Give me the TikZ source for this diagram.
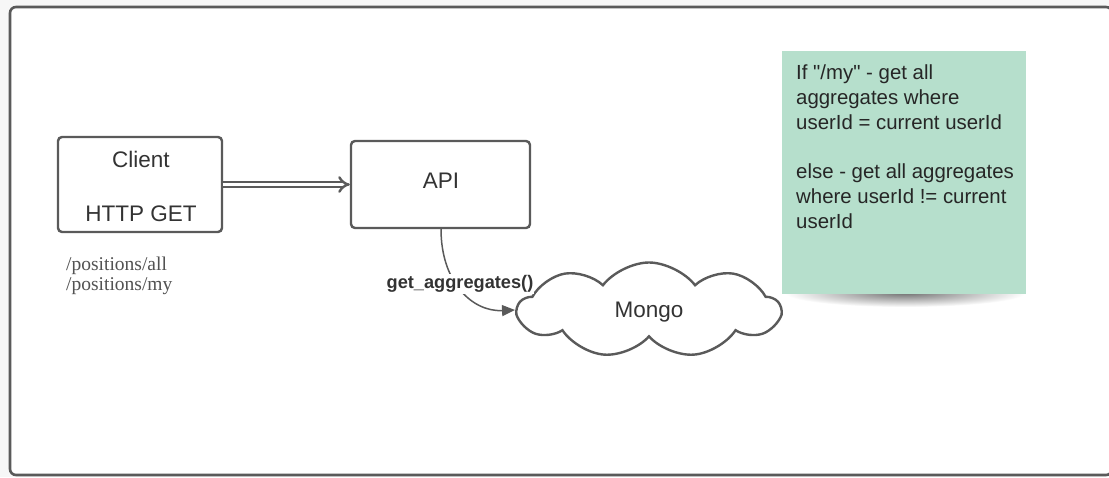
\documentclass[tikz,border=0pt]{standalone}
\usepackage{fontspec}
\setmainfont{Liberation Sans}
\newfontfamily\notefont{Liberation Sans}[Ligatures=TeXOff]
\newfontfamily\pathfont{Liberation Serif}
\usetikzlibrary{arrows.meta,shapes.symbols}
\definecolor{edge}{HTML}{5A5A5A}
\definecolor{txt}{HTML}{333333}
\definecolor{note}{HTML}{B6DFCC}
\definecolor{bg}{HTML}{F7F7F7}
\tikzset{
  box/.style={draw=edge, line width=2.4pt, rounded corners=4pt, fill=white, inner sep=0pt},
  lbl/.style={text=txt, font=\fontsize{22.5}{27}\selectfont, inner sep=0pt},
}
\begin{document}
\begin{tikzpicture}[x=1pt,y=-1pt]
\useasboundingbox (0,0) rectangle (1109,477);
\fill[bg] (0,0) rectangle (1109,477);
\draw[draw=edge, line width=2.6pt, rounded corners=6pt, fill=white] (10,7) rectangle (1112,475);

% Client
\node[box, minimum width=164pt, minimum height=95pt] (client) at (140,184.5) {};
\node[lbl] (clientT) at (141,159) {Client};
\node[lbl] (clientG) at (141,214) {HTTP GET};

% API
\node[box, minimum width=179pt, minimum height=87pt] (api) at (440.5,184.5) {};
\node[lbl] (apiT) at (441,181) {API};

% paths
\node[text=txt!85, font=\pathfont\fontsize{19.5}{20}\selectfont, align=left, anchor=north west, inner sep=0pt] (paths) at (66,257) {/positions/all\\[-0.5pt]/positions/my};

% double arrow
\draw[draw=edge, line width=2.4pt, double=white, double distance=3pt, -{Implies[length=7pt,width=14pt]}] (client.east) -- (api.west);

% Mongo cloud
\node[cloud, cloud puffs=9, cloud puff arc=105, aspect=2.7, draw=edge, line width=2.4pt, fill=white,
      minimum width=262pt, minimum height=95pt, inner sep=0pt] (mongo) at (649,310) {};
\node[lbl] (mongoT) at (649,312) {Mongo};

% connector
\coordinate (apiB) at (441,229);
\draw[draw=edge, line width=1.5pt, -{Triangle[length=13pt,width=11pt]}] (apiB) .. controls (441,282) and (472,312) .. (mongo.west);
\node[fill=white, text=txt, font=\bfseries\fontsize{18.2}{21}\selectfont, inner sep=1pt] (getagg) at (460,284) {get\_aggregates()};

% note shadow
\begin{scope}
\clip (780,293) rectangle (1040,312);
\shade[inner color=black!55, outer color=white] (905,293) ellipse [x radius=120, y radius=14];
\end{scope}
% note
\node[fill=note, minimum width=244pt, minimum height=243pt, inner sep=0pt] (notebox) at (904,172) {};
\node[anchor=north west, align=left, text=black!85, font=\notefont\fontsize{20.4}{24.7}\selectfont, inner sep=0pt] (noteT) at (796,65)
{If "/my" - get all\\aggregates where\\userId = current userId\\[24.7pt]else - get all aggregates\\where userId != current\\userId};
\end{tikzpicture}
\end{document}
